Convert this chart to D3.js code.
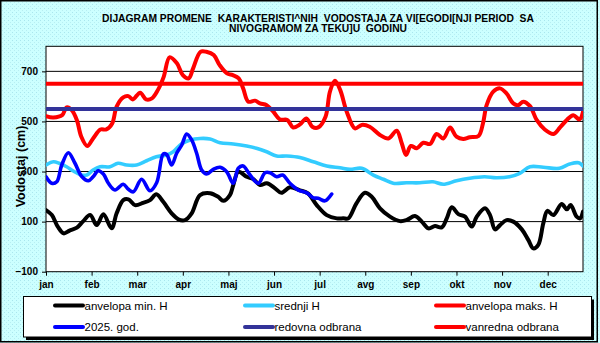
<!DOCTYPE html>
<html><head><meta charset="utf-8">
<script src="https://cdn.jsdelivr.net/npm/d3@7"></script>
<style>
body{margin:0;background:#ccffff}
svg{display:block}
text{font-family:Arial,"Liberation Sans",sans-serif}
</style>
</head><body><svg id="c" width="600" height="343"></svg>
<script>
// ---- data ----
const titleLines = ["DIJAGRAM PROMENE  KARAKTERISTI^NIH  VODOSTAJA ZA VI[EGODI[NJI PERIOD  SA", "NIVOGRAMOM ZA TEKU]U  GODINU"];
const yAxisTitle = "Vodostaj (cm)";
const monthLabels = ["jan","feb","mar","apr","maj","jun","jul","avg","sep","okt","nov","dec"];
const monthDays = [0,31,62,93,124,155,186,217,248,279,310,341];
const yTickValues = [-100,100,300,500,700];
const gridValues = [100,300,500,700];

// [day of year, water level cm]
const minH = [[0,146],[4,126],[8,80],[12,53],[16,64],[21,76],[25,100],[30,126],[34.5,86],[39,129],[44.6,73],[48,133],[52.5,186],[56,189],[60.5,166],[66,175],[70.7,186],[75,209],[79.7,179],[85.4,133],[90,109],[94.5,106],[99,133],[104.7,206],[111.5,213],[117,199],[120.5,183],[125,206],[127.3,246],[130.7,299],[136.4,279],[141,269],[145.5,246],[150,253],[155.7,233],[160,215],[165.8,237],[172.6,225],[178,213],[184,166],[190.8,126],[197.6,113],[202,113],[205.5,113],[211,173],[216.8,215],[221.4,199],[227,153],[233.8,120],[240.6,102],[245,106],[250.8,122],[255.4,100],[260,73],[264.4,82],[269,77],[272.4,113],[275.8,157],[280.3,130],[284.8,120],[289.4,80],[292.8,120],[298.4,153],[301.8,126],[305.2,69],[308.6,86],[313,106],[317.6,100],[323.4,69],[327.8,27],[331.2,-7],[334.6,7],[338,93],[340.8,143],[344.8,126],[350.5,170],[354,149],[356.6,166],[360.7,120],[363,113],[365,140]];
const meanH = [[0,326],[5,339],[9,333],[14,319],[18.6,302],[24,286],[27.7,286],[32,306],[36.7,319],[43.5,319],[49,333],[54.8,326],[61.6,326],[68.4,343],[75,359],[82,366],[86.5,379],[92,410],[98,426],[104.7,432],[111.5,430],[118.3,415],[127.3,410],[136.4,402],[143,393],[150,379],[156.8,362],[163.6,362],[172.6,356],[181.7,339],[190.8,322],[199.8,315],[206.6,309],[214.6,313],[222.5,286],[229.3,269],[236,253],[245,255],[254,255],[263,259],[270,249],[279,263],[288,273],[298,279],[306,275],[315,279],[322,293],[329,319],[338,317],[349,313],[356,330],[362,335],[365,322]];
const maxH = [[0,521],[5,516],[11,525],[14,556],[17.5,545],[21,505],[24,439],[28,402],[32,432],[37,468],[41,468],[45,492],[48,559],[52.5,596],[56,601],[59,588],[64,615],[68,588],[72,592],[76,625],[80,678],[84,756],[89,732],[93,685],[97,672],[100,712],[105,778],[109,778],[114,765],[118,725],[123,692],[127,685],[131,672],[134,632],[137.5,579],[142,583],[145.5,572],[150,565],[154.5,539],[159,508],[164,506],[168,476],[172.6,488],[177,512],[181,479],[185,476],[190,519],[193,619],[196.4,662],[200,625],[204.4,539],[210,472],[214.6,486],[220,479],[227,446],[232.7,432],[238.4,463],[241.8,413],[244.7,366],[248,402],[252,393],[256.5,415],[261,410],[265.5,450],[270,432],[274.6,476],[279,439],[283.6,430],[288,437],[294,442],[297,492],[299.5,565],[304,619],[308.6,632],[313,612],[317.6,572],[321,565],[324.4,579],[329,561],[333.5,506],[339,468],[345,450],[349.4,476],[354,506],[358.4,525],[362.6,508],[365,539]];
const year2025 = [[0,279],[3.9,253],[7.3,259],[10.7,326],[15.2,375],[19.7,333],[24.3,280],[28.8,263],[32,279],[35.5,303],[39,290],[42.4,253],[46.9,226],[52.5,249],[56,229],[59.4,219],[65,269],[70.7,223],[75.2,255],[79.7,370],[82,368],[85.4,326],[88.8,373],[92.3,406],[95.6,450],[99,426],[102.4,373],[105.8,306],[109.2,290],[113.7,309],[118.3,317],[122.8,299],[127.3,253],[130.7,313],[134,322],[138.7,286],[144.3,253],[148.9,295],[152.3,295],[156.8,279],[160.8,286],[165.8,253],[171.5,226],[177.2,215],[181.7,195],[185,193],[189.6,183],[191.9,193],[194.2,210]];
const redovnaOdbrana = 550;
const vanrednaOdbrana = 650;

const legendLabels = ["anvelopa min. H","srednji H","anvelopa maks. H","2025. god.","redovna odbrana","vanredna odbrana"];
const legendColors = ["#000000","#33ccff","#ff0000","#0000ff","#333399","#ff0000"];

// ---- drawing ----
const svg = d3.select("#c");
const L = 46, R = 583, T = 46.3, B = 271.7;
const x = d3.scaleLinear().domain([0,365]).range([L,R]);
const y = d3.scaleLinear().domain([-100,800]).range([B,T]);

const defs = svg.append("defs");
const pat = defs.append("pattern").attr("id","dots").attr("width",4).attr("height",4).attr("patternUnits","userSpaceOnUse");
pat.append("rect").attr("width",4).attr("height",4).attr("fill","#ccffff");
pat.append("rect").attr("x",0).attr("y",0).attr("width",1).attr("height",1).attr("fill","#a9e6ee");
pat.append("rect").attr("x",2).attr("y",2).attr("width",1).attr("height",1).attr("fill","#b8eef2");

svg.append("rect").attr("width",600).attr("height",343).attr("fill","url(#dots)");
svg.append("rect").attr("x",0.75).attr("y",0.75).attr("width",596.5).attr("height",341).attr("fill","none").attr("stroke","#000").attr("stroke-width",1.5);

// title
svg.append("g").selectAll("text").data(titleLines).join("text")
  .attr("x",318).attr("y",(d,i)=>21.7+i*10.7)
  .attr("text-anchor","middle").attr("font-weight","bold").attr("font-size","10.3px")
  .style("white-space","pre").text(d=>d);

// plot area
svg.append("rect").attr("x",L).attr("y",T).attr("width",R-L).attr("height",B-T).attr("fill","#fff");

svg.append("g").selectAll("line").data(gridValues).join("line")
  .attr("x1",L).attr("x2",R).attr("y1",d=>y(d)).attr("y2",d=>y(d))
  .attr("stroke","#000").attr("stroke-width",1);

svg.append("rect").attr("x",L).attr("y",T).attr("width",R-L).attr("height",B-T)
  .attr("fill","none").attr("stroke","#000").attr("stroke-width",1);

// axes
const yAxis = svg.append("g").attr("transform",`translate(${L},0)`)
  .call(d3.axisLeft(y).tickValues(yTickValues).tickSize(4).tickPadding(4).tickFormat(d3.format("d")));
yAxis.select(".domain").remove();
yAxis.selectAll("line").attr("stroke","#000");
yAxis.selectAll("text").attr("font-family","Arial,'Liberation Sans',sans-serif")
  .attr("font-size","10px").attr("font-weight","bold").attr("fill","#000");

const xAxis = svg.append("g").attr("transform",`translate(0,${B})`)
  .call(d3.axisBottom(x).tickValues(monthDays).tickSize(4).tickFormat((d,i)=>monthLabels[i]));
xAxis.select(".domain").remove();
xAxis.selectAll("line").attr("stroke","#000");
xAxis.selectAll("text").attr("font-family","Arial,'Liberation Sans',sans-serif")
  .attr("font-size","10px").attr("font-weight","bold").attr("fill","#000")
  .attr("dy",null).attr("y",16.8);

// y-axis title
svg.append("text").attr("transform","translate(24.5,166.5) rotate(-90)")
  .attr("text-anchor","middle").attr("font-weight","bold").attr("font-size","12.5px")
  .text(yAxisTitle);

// series
const clip = defs.append("clipPath").attr("id","pc");
clip.append("rect").attr("x",L).attr("y",T-3).attr("width",R-L).attr("height",B-T+3);

const line = d3.line().x(d=>x(d[0])).y(d=>y(d[1])).curve(d3.curveCatmullRom.alpha(0.5));
const g = svg.append("g").attr("clip-path","url(#pc)");
const series = [
  {data:minH, color:"#000000", w:4},
  {data:meanH, color:"#33ccff", w:3.6},
  {data:maxH, color:"#ff0000", w:4},
  {data:year2025, color:"#0000ff", w:3.6}
];
series.forEach(s=>{
  g.append("path").attr("d",line(s.data)).attr("fill","none")
   .attr("stroke",s.color).attr("stroke-width",s.w).attr("stroke-linejoin","round").attr("stroke-linecap","round");
});
[[redovnaOdbrana,"#333399"],[vanrednaOdbrana,"#ff0000"]].forEach(([v,c])=>{
  g.append("line").attr("x1",L).attr("x2",R).attr("y1",y(v)).attr("y2",y(v))
   .attr("stroke",c).attr("stroke-width",4);
});

// legend
const lg = svg.append("g");
lg.append("rect").attr("x",26).attr("y",299.5).attr("width",568).attr("height",40.5).attr("fill","#000");
lg.append("rect").attr("x",23.5).attr("y",296.5).attr("width",568).attr("height",40.5).attr("fill","#fff").attr("stroke","#000").attr("stroke-width",1);
const colX = [55,245,436], rowY = [305.5,327];
legendLabels.forEach((lab,i)=>{
  const cx = colX[i%3], cy = rowY[Math.floor(i/3)];
  lg.append("line").attr("x1",cx).attr("x2",cx+28).attr("y1",cy).attr("y2",cy)
    .attr("stroke",legendColors[i]).attr("stroke-width",4).attr("stroke-linecap","round");
  lg.append("text").attr("x",cx+29.5).attr("y",cy+4.2).attr("font-size","11.5px").attr("fill","#000").text(lab);
});
</script>
</body></html>
